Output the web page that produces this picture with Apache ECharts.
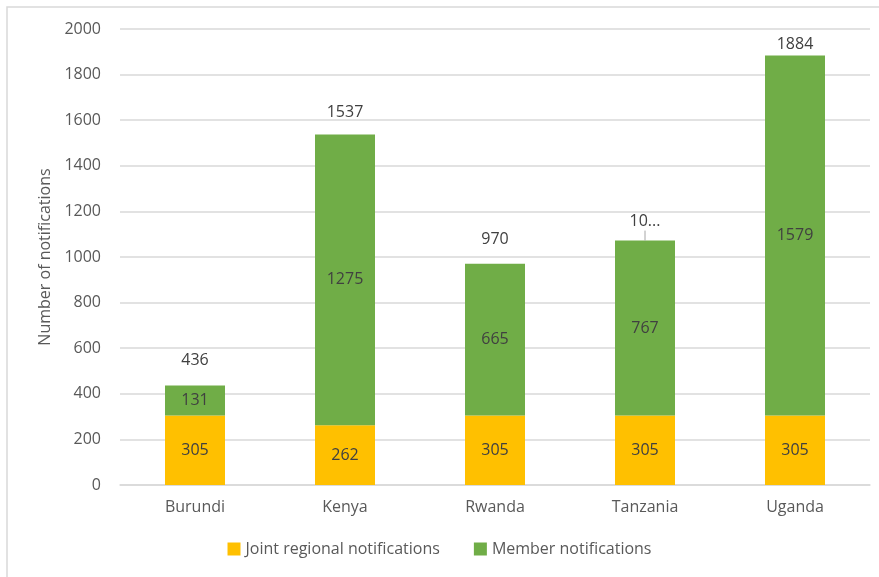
<!DOCTYPE html>
<html>
<head>
<meta charset="utf-8">
<script src="https://cdn.jsdelivr.net/npm/echarts@6/dist/echarts.min.js"></script>
<style>
  html, body { margin: 0; padding: 0; background: #fff; }
  #chart { width: 879px; height: 577px; }
</style>
</head>
<body>
<div id="chart"></div>
<script>
// data
var countries = ['Burundi', 'Kenya', 'Rwanda', 'Tanzania', 'Uganda'];
var jointRegional = [305, 262, 305, 305, 305];
var memberNotes = [131, 1275, 665, 767, 1579];
var totalLabels = ['436', '1537', '970', '10...', '1884'];
var yTicks = [0, 200, 400, 600, 800, 1000, 1200, 1400, 1600, 1800, 2000];

var totals = countries.map(function (c, i) { return [i, jointRegional[i] + memberNotes[i]]; });

var font = 'Open Sans';
var txt = '#595959';

// label offset above the bar top (Excel moved some of them)
var labelGap = [25, 22, 24, 19, 11];

var chart = echarts.init(document.getElementById('chart'));
var option = {
    animation: false,
    textStyle: { fontFamily: font },
    graphic: [{
        type: 'polyline',
        shape: { points: [[7, 577], [7, 7], [879, 7]] },
        style: { stroke: '#d9d9d9', lineWidth: 1.5, fill: null },
        silent: true
    }],
    grid: { left: 120, right: 9, top: 29, bottom: 92 },
    legend: {
        bottom: 15,
        left: 'center',
        itemWidth: 13,
        itemHeight: 13,
        itemGap: 34,
        icon: 'rect',
        data: ['Joint regional notifications', 'Member notifications'],
        textStyle: { color: txt, fontSize: 16, fontFamily: font, padding: [0, 0, 0, 0] }
    },
    xAxis: {
        type: 'category',
        data: countries,
        axisTick: { show: false },
        axisLine: { lineStyle: { color: '#d9d9d9', width: 1.5 } },
        axisLabel: { color: txt, fontSize: 16, margin: 14 }
    },
    yAxis: {
        type: 'value',
        min: yTicks[0],
        max: yTicks[yTicks.length - 1],
        interval: 200,
        name: 'Number of notifications',
        nameLocation: 'middle',
        nameGap: 66,
        nameTextStyle: { color: txt, fontSize: 16 },
        axisLine: { show: false },
        axisTick: { show: false },
        axisLabel: { color: txt, fontSize: 16, margin: 19, formatter: function (v) { return String(v); } },
        splitLine: { lineStyle: { color: '#d9d9d9', width: 1.5 } }
    },
    series: [
        {
            name: 'Joint regional notifications',
            type: 'bar',
            stack: 'n',
            barWidth: '40%',
            data: jointRegional,
            itemStyle: { color: '#FFC000' },
            label: { show: true, position: 'inside', color: '#404040', fontSize: 16 }
        },
        {
            name: 'Member notifications',
            type: 'bar',
            stack: 'n',
            data: memberNotes,
            itemStyle: { color: '#70AD47' },
            label: { show: true, position: 'inside', color: '#404040', fontSize: 16 }
        },
        {
            name: 'Total',
            type: 'custom',
            data: totals,
            encode: { x: 0, y: 1 },
            z: 10,
            renderItem: function (params, api) {
                var i = params.dataIndex;
                var p = api.coord([api.value(0), api.value(1)]);
                var gap = labelGap[i];
                var kids = [{
                    type: 'text',
                    x: p[0],
                    y: p[1] - gap,
                    style: {
                        text: totalLabels[i],
                        fill: '#404040',
                        fontSize: 16,
                        fontFamily: font,
                        align: 'center',
                        verticalAlign: 'middle'
                    }
                }];
                if (i === 3) {
                    kids.push({
                        type: 'line',
                        shape: { x1: p[0], y1: p[1] - gap + 9, x2: p[0], y2: p[1] },
                        style: { stroke: '#a6a6a6', lineWidth: 1 }
                    });
                }
                return { type: 'group', children: kids };
            }
        }
    ]
};
chart.setOption(option);
</script>
</body>
</html>
